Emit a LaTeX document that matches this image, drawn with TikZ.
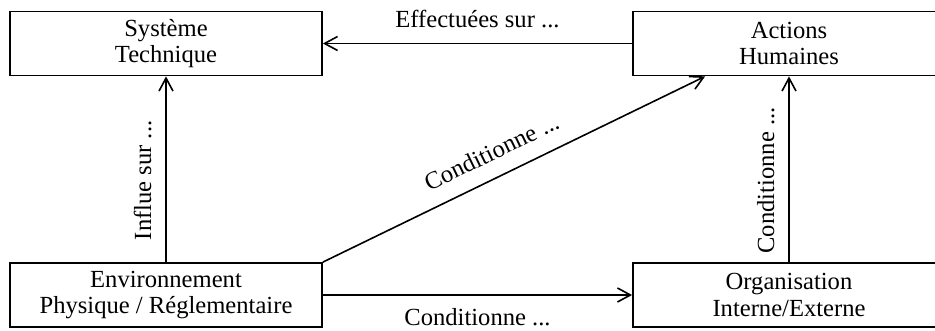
\documentclass[tikz,border=0pt]{standalone}
\usepackage{fontspec}
\setmainfont{Liberation Serif}
\usetikzlibrary{arrows.meta, positioning, calc}

\tikzset{
  box/.style={draw, line width=0.9pt, minimum width=156pt, minimum height=32pt,
    align=center, inner sep=0pt, font=\fontsize{12.3}{13.4}\selectfont},
  link/.style={line width=0.8pt, -{Straight Barb[length=6.5pt,width=7pt]}},
  tag/.style={font=\fontsize{12.3}{13.4}\selectfont, inner sep=1pt,
    text height=8.5pt, text depth=2.5pt}
}

\begin{document}
\begin{tikzpicture}[x=0.5pt, y=0.5pt]
\useasboundingbox (0,0) rectangle (935,331);

% Four boxes
\node[box] (sys) at (166,287.5) {Système\\Technique};
\node[box] (act) at (789,287.5) {Actions\\Humaines};
\node[box] (env) at (166,36) {Environnement\\Physique / Réglementaire};
\node[box] (org) at (789,36) {Organisation\\Interne/Externe};

\coordinate (hit) at ($(act.south west)+(73,0)$);

% Links
\draw[link] (act) -- node[tag, above, outer sep=4.5pt] {Effectuées sur ...} (sys);
\draw[link] (env) -- node[tag, below, outer sep=6pt] {Conditionne ...} (org);
\draw[link] (env) -- node[tag, sloped, above, pos=0.44, outer sep=4pt] {Influe sur ...} (sys);
\draw[link] (org) -- node[tag, sloped, above, pos=0.44, outer sep=4pt] {Conditionne ...} (act);
\draw[link] (env.north east) -- node[tag, sloped, above, pos=0.47, outer sep=5pt] {Conditionne ...} (hit);
\end{tikzpicture}
\end{document}
